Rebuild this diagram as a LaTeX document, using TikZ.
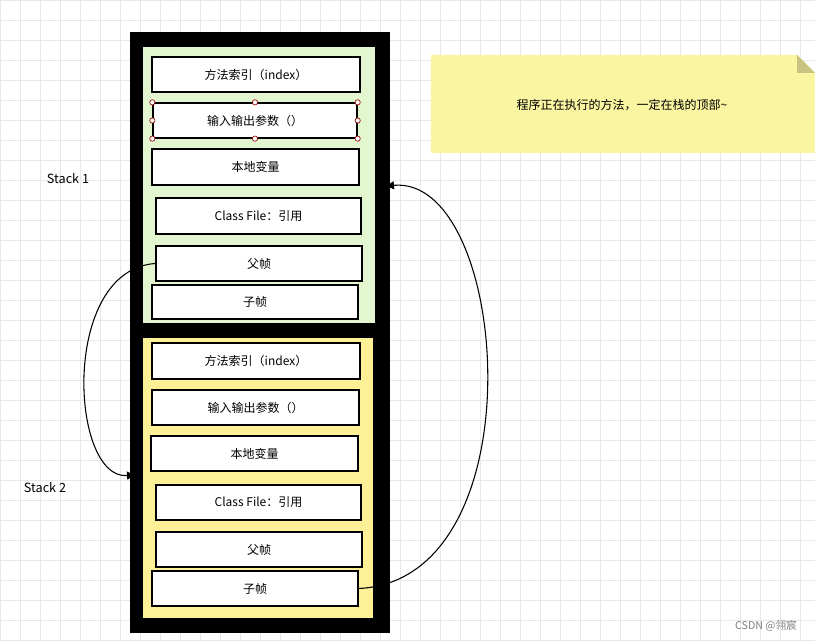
\documentclass[tikz,border=0pt]{standalone}
\usepackage{fontspec}
\setmainfont{Noto Sans CJK SC}
\usetikzlibrary{arrows.meta}
\definecolor{gridc}{RGB}{232,232,232}
\definecolor{greenp}{RGB}{226,246,208}
\definecolor{yellowp}{RGB}{253,240,150}
\definecolor{notec}{RGB}{250,245,160}
\begin{document}
\begin{tikzpicture}[x=0.75pt,y=-0.75pt,
  box/.style 2 args={draw=black,line width=1pt,fill=white,font=\fontsize{9}{11}\selectfont,minimum width=#1*0.75pt,minimum height=#2*0.75pt,inner sep=0pt},
  lbl/.style={font=\fontsize{9.5}{11}\selectfont},
  handle/.style={circle,draw=red!60!black,fill=white,inner sep=1.4pt,line width=0.5pt},
  conn/.style={line width=0.8pt,-{Triangle[length=6pt,width=6pt]}}]
\useasboundingbox (0,0) rectangle (815,641);
\fill[white] (0,0) rectangle (815,641);
\foreach \i in {0,20,...,820} \draw[gridc,line width=0.5pt] (\i,0) -- (\i,641);
\foreach \j in {0,20,...,640} \draw[gridc,line width=0.5pt] (0,\j) -- (815,\j);
\fill[black] (130,32) rectangle (390,633);
\fill[greenp] (143,47) rectangle (375,323);
\fill[yellowp] (143,338) rectangle (373,618);
% stack 1
\node[box={208}{35}] (a1) at (256,74.5) {方法索引（index）};
\node[box={204}{35}] (b1) at (255,120.5) {输入输出参数（）};
\node[box={207}{36}] (c1) at (255.5,167) {本地变量};
\node[box={205}{36}] (d1) at (258.5,216) {Class File：引用};
\node[box={206}{35}] (e1) at (259,263.5) {父帧};
\node[box={206}{34}] (f1) at (255,302) {子帧};
% stack 2
\node[box={208}{36}] (a2) at (256,361) {方法索引（index）};
\node[box={207}{35}] (b2) at (255.5,407.5) {输入输出参数（）};
\node[box={207}{35}] (c2) at (254.5,453.5) {本地变量};
\node[box={205}{35}] (d2) at (258.5,502.5) {Class File：引用};
\node[box={206}{35}] (e2) at (259,549.5) {父帧};
\node[box={206}{35}] (f2) at (255,588.5) {子帧};
% selection handles
\foreach \p in {north west,north,north east,west,east,south west,south,south east}
  \node[handle] at (b1.\p) {};
% labels
\node[lbl] (s1) at (68,179) {Stack 1};
\node[lbl] (s2) at (45,488) {Stack 2};
% note
\fill[notec] (431,55) -- (797,55) -- (815,73) -- (815,153) -- (431,153) -- cycle;
\fill[notec!80!black] (797,55) -- (797,73) -- (815,73) -- cycle;
\node[font=\fontsize{9}{11}\selectfont] (note) at (622,105) {程序正在执行的方法，一定在栈的顶部\textasciitilde};
% connectors
\coordinate (t2) at (135,475);
\coordinate (t1) at (386,186);
\draw[conn] (e1.west) .. controls (60,270) and (70,480) .. (t2);
\draw[conn] (f2.east) .. controls (540,580) and (510,175) .. (t1);
\node[font=\fontsize{8}{10}\selectfont,text=gray] (wm) at (766,626) {CSDN @翎宸};
\end{tikzpicture}
\end{document}
